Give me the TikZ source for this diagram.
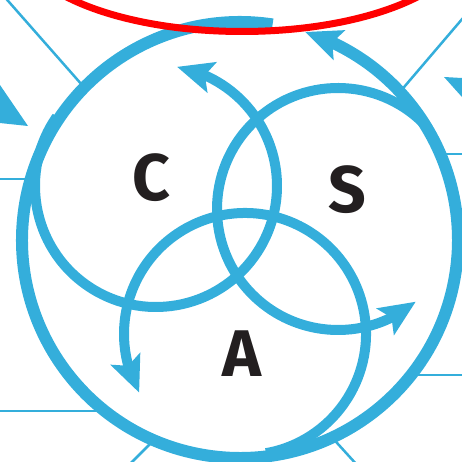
\documentclass[tikz,border=0pt]{standalone}
\usepackage{fontspec}
\newfontfamily\lblfont{Fira Sans}
\usetikzlibrary{arrows.meta,bending}
\definecolor{ringblue}{RGB}{52,174,219}
\definecolor{markred}{RGB}{255,0,0}
\definecolor{inkdark}{RGB}{35,31,32}
\tikzset{
  ring/.style={draw=ringblue,line width=10pt},
  ringarrow/.style={ring,-{Stealth[length=36pt,width=31pt,inset=7pt]}},
  spoke/.style={draw=ringblue,line width=2.5pt},
  lbl/.style={text=inkdark,font=\lblfont\bfseries\fontsize{66}{66}\selectfont,inner sep=0pt}
}
\begin{document}
\begin{tikzpicture}[x=1pt,y=1pt]
  \useasboundingbox (0,0) rectangle (462,462);
  \clip (0,0) rectangle (462,462);
  \coordinate (cO) at (240,222); \coordinate (cC) at (156,276);
  \coordinate (cS) at (338,253); \coordinate (cA) at (245,128);
  \coordinate (w) at (-10,0); \coordinate (e) at (472,0);
  \coordinate (p1) at ([shift={(135.6:218)}]cO); \coordinate (q1) at ([shift={(-88,100)}]p1);
  \coordinate (p2) at ([shift={(163.75:218)}]cO); \coordinate (q2) at (p2 -| w);
  \coordinate (p3) at ([shift={(231.7:218)}]cO); \coordinate (q3) at (p3 -| w);
  \coordinate (p4) at ([shift={(246.7:218)}]cO); \coordinate (q4) at ([shift={(-50,-50)}]p4);
  \coordinate (p5) at ([shift={(295:218)}]cO); \coordinate (q5) at ([shift={(40,-44)}]p5);
  \coordinate (p6) at ([shift={(321.7:218)}]cO); \coordinate (q6) at (p6 -| e);
  \coordinate (p7) at ([shift={(23.2:218)}]cO); \coordinate (q7) at (p7 -| e);
  \coordinate (p8) at ([shift={(42.8:218)}]cO); \coordinate (q8) at ([shift={(70,82)}]p8);
  \foreach \i in {1,...,8} \draw[spoke] (p\i) -- (q\i);
  \fill[ringblue] (28,336) -- (-5,384.3) -- (-5,339.5) -- cycle;
  \fill[ringblue] (444,385) -- (467,383.7) -- (467,359.4) -- cycle;
  \draw[ringarrow,line width=12pt] ([shift={(81.4:218)}]cO) arc[start angle=81.4,end angle=432.6,radius=218];
  \draw[ringarrow] ([shift={(145:121)}]cC) arc[start angle=145,end angle=440,radius=121];
  \draw[ringarrow] ([shift={(42:121)}]cS) arc[start angle=42,end angle=310,radius=121];
  \draw[ringarrow] ([shift={(280:121)}]cA) arc[start angle=280,end angle=569,radius=121];
  \node[lbl] (lC) at (151.5,284) {C}; \node[lbl] (lS) at (347.5,272) {S};
  \node[lbl] (lA) at (241.5,108) {A};
  \draw[markred,line width=7pt] (242,522) ellipse[x radius=224,y radius=91.5];
\end{tikzpicture}
\end{document}
